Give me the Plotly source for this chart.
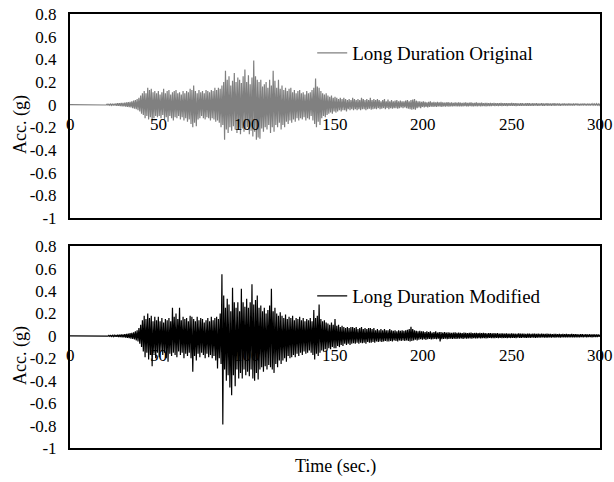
import numpy as np
import plotly.graph_objects as go

# Time axis (1 s steps); each second holds an upper and a lower peak value
time_s = list(range(0, 301))

orig_upper = [0]*20 + [
    0.003,0.004,0.005,0.006,0.008,0.008,0.01,0.012,0.012,0.015,
    0.015,0.018,0.02,0.022,0.025,0.03,0.035,0.04,0.05,0.06,
    0.08,0.1,0.12,0.1,0.15,0.13,0.14,0.11,0.12,0.1,
    0.12,0.09,0.11,0.14,0.1,0.12,0.13,0.09,0.11,0.12,
    0.13,0.1,0.11,0.09,0.12,0.1,0.12,0.11,0.14,0.13,
    0.17,0.12,0.1,0.13,0.11,0.12,0.1,0.13,0.12,0.11,
    0.13,0.12,0.15,0.13,0.15,0.14,0.17,0.2,0.3,0.22,
    0.25,0.17,0.21,0.28,0.2,0.24,0.22,0.19,0.25,0.31,
    0.2,0.26,0.18,0.24,0.39,0.25,0.22,0.2,0.22,0.16,
    0.18,0.2,0.15,0.22,0.17,0.3,0.21,0.15,0.22,0.14,
    0.17,0.13,0.15,0.12,0.14,0.15,0.11,0.13,0.1,0.12,
    0.13,0.1,0.11,0.09,0.12,0.1,0.11,0.13,0.15,0.23,
    0.16,0.15,0.12,0.1,0.09,0.1,0.08,0.07,0.08,0.06,
    0.07,0.06,0.05,0.06,0.05,0.06,0.05,0.04,0.05,0.04,
    0.06,0.05,0.04,0.05,0.04,0.06,0.05,0.04,0.05,0.04,
    0.06,0.04,0.05,0.04,0.05,0.04,0.03,0.04,0.05,0.03,
    0.045,0.03,0.04,0.03,0.035,0.04,0.03,0.035,0.03,0.03,
    0.035,0.04,0.03,0.04,0.045,0.05,0.035,0.03,0.03,0.025,
    0.03,0.025,0.02,0.025,0.03,0.02,0.025,0.02,0.025,0.02,
    0.025,0.02,0.018,0.02,0.022,0.018,0.02,0.015,0.02,0.018,
    0.02,0.018,0.015,0.018,0.02,0.016,0.018,0.02,0.016,0.015,
    0.02,0.016,0.015,0.018,0.014,0.016,0.015,0.013,0.015,0.014,
    0.015,0.013,0.014,0.012,0.015,0.013,0.012,0.014,0.012,0.013,
    0.015,0.012,0.013,0.012,0.011,0.013,0.012,0.011,0.012,0.013,
    0.012,0.011,0.012,0.01,0.012,0.011,0.01,0.012,0.011,0.01,
    0.012,0.01,0.011,0.01,0.012,0.01,0.011,0.01,0.009,0.011,
    0.01,0.009,0.011,0.01,0.009,0.01,0.009,0.01,0.009,0.008,
    0.009,0.01,0.008,0.009,0.008,0.009,0.008,0.007,0.008,0.007,
    0.005]

orig_lower = [0]*20 + [
    -0.003,-0.004,-0.005,-0.006,-0.007,-0.008,-0.01,-0.011,-0.012,-0.014,
    -0.015,-0.017,-0.02,-0.022,-0.025,-0.03,-0.035,-0.04,-0.05,-0.06,
    -0.08,-0.09,-0.12,-0.1,-0.13,-0.11,-0.15,-0.12,-0.1,-0.11,
    -0.1,-0.12,-0.09,-0.13,-0.11,-0.15,-0.1,-0.12,-0.14,-0.11,
    -0.12,-0.1,-0.13,-0.11,-0.14,-0.12,-0.15,-0.13,-0.17,-0.2,
    -0.16,-0.19,-0.13,-0.12,-0.1,-0.12,-0.13,-0.11,-0.12,-0.14,
    -0.12,-0.13,-0.15,-0.14,-0.16,-0.2,-0.18,-0.31,-0.22,-0.25,
    -0.2,-0.23,-0.19,-0.22,-0.25,-0.2,-0.26,-0.21,-0.24,-0.22,
    -0.2,-0.26,-0.23,-0.28,-0.24,-0.31,-0.29,-0.3,-0.21,-0.24,
    -0.2,-0.22,-0.18,-0.25,-0.2,-0.24,-0.18,-0.2,-0.16,-0.22,
    -0.18,-0.2,-0.15,-0.17,-0.14,-0.16,-0.13,-0.15,-0.12,-0.14,
    -0.12,-0.13,-0.11,-0.14,-0.12,-0.13,-0.1,-0.14,-0.17,-0.2,
    -0.15,-0.18,-0.12,-0.1,-0.11,-0.09,-0.08,-0.07,-0.08,-0.06,
    -0.07,-0.06,-0.05,-0.06,-0.05,-0.05,-0.06,-0.04,-0.05,-0.04,
    -0.05,-0.04,-0.05,-0.04,-0.05,-0.04,-0.04,-0.05,-0.04,-0.035,
    -0.045,-0.04,-0.035,-0.04,-0.03,-0.04,-0.035,-0.03,-0.04,-0.03,
    -0.04,-0.03,-0.035,-0.03,-0.03,-0.035,-0.03,-0.025,-0.03,-0.025,
    -0.03,-0.035,-0.04,-0.045,-0.04,-0.045,-0.03,-0.025,-0.03,-0.02,
    -0.025,-0.02,-0.025,-0.02,-0.018,-0.02,-0.018,-0.02,-0.016,-0.018,
    -0.02,-0.016,-0.018,-0.015,-0.017,-0.015,-0.016,-0.014,-0.015,-0.016,
    -0.015,-0.014,-0.016,-0.013,-0.015,-0.014,-0.013,-0.015,-0.014,-0.013,
    -0.016,-0.013,-0.014,-0.012,-0.013,-0.014,-0.012,-0.013,-0.012,-0.011,
    -0.012,-0.011,-0.013,-0.01,-0.012,-0.011,-0.01,-0.012,-0.011,-0.01,
    -0.011,-0.01,-0.012,-0.01,-0.011,-0.009,-0.01,-0.011,-0.009,-0.01,
    -0.01,-0.009,-0.01,-0.008,-0.01,-0.009,-0.008,-0.009,-0.01,-0.008,
    -0.009,-0.008,-0.009,-0.008,-0.009,-0.008,-0.007,-0.009,-0.008,-0.007,
    -0.008,-0.007,-0.008,-0.007,-0.008,-0.007,-0.006,-0.008,-0.007,-0.006,
    -0.007,-0.006,-0.007,-0.006,-0.007,-0.006,-0.005,-0.006,-0.005,-0.006,
    -0.004]

mod_upper = [0]*20 + [
    0.002,0.003,0.004,0.005,0.006,0.007,0.008,0.01,0.011,0.012,
    0.014,0.016,0.018,0.02,0.024,0.028,0.032,0.04,0.05,0.07,
    0.1,0.14,0.18,0.15,0.2,0.16,0.18,0.13,0.17,0.14,
    0.17,0.13,0.16,0.12,0.15,0.14,0.16,0.13,0.25,0.17,
    0.2,0.15,0.25,0.14,0.17,0.15,0.16,0.13,0.18,0.17,
    0.15,0.13,0.17,0.14,0.16,0.15,0.12,0.14,0.16,0.13,
    0.17,0.14,0.16,0.17,0.15,0.2,0.55,0.36,0.25,0.33,
    0.28,0.22,0.43,0.3,0.25,0.3,0.22,0.42,0.3,0.26,
    0.33,0.25,0.3,0.46,0.28,0.32,0.36,0.25,0.27,0.22,
    0.25,0.2,0.23,0.27,0.42,0.22,0.25,0.2,0.18,0.21,
    0.18,0.16,0.19,0.15,0.17,0.16,0.18,0.14,0.16,0.15,
    0.17,0.14,0.16,0.13,0.15,0.14,0.16,0.13,0.23,0.16,
    0.18,0.28,0.15,0.13,0.14,0.12,0.11,0.1,0.12,0.1,
    0.15,0.09,0.1,0.08,0.09,0.08,0.07,0.08,0.07,0.08,
    0.08,0.07,0.08,0.06,0.07,0.08,0.06,0.07,0.06,0.07,
    0.07,0.06,0.07,0.05,0.06,0.05,0.06,0.05,0.06,0.05,
    0.05,0.06,0.05,0.045,0.05,0.04,0.05,0.045,0.05,0.045,
    0.05,0.055,0.06,0.08,0.06,0.05,0.045,0.04,0.045,0.04,
    0.04,0.035,0.04,0.035,0.04,0.03,0.035,0.04,0.03,0.035,
    0.035,0.03,0.035,0.03,0.032,0.03,0.028,0.03,0.032,0.028,
    0.03,0.028,0.025,0.03,0.028,0.025,0.027,0.03,0.025,0.026,
    0.028,0.025,0.027,0.024,0.026,0.025,0.023,0.025,0.024,0.022,
    0.025,0.022,0.024,0.021,0.023,0.022,0.02,0.022,0.021,0.02,
    0.022,0.02,0.021,0.019,0.022,0.02,0.019,0.02,0.018,0.02,
    0.02,0.018,0.019,0.02,0.017,0.019,0.018,0.02,0.017,0.018,
    0.019,0.017,0.018,0.016,0.018,0.017,0.016,0.018,0.016,0.017,
    0.016,0.017,0.015,0.016,0.018,0.015,0.016,0.015,0.014,0.015,
    0.016,0.014,0.015,0.013,0.014,0.013,0.014,0.012,0.013,0.012,
    0.01]

mod_lower = [0]*20 + [
    -0.002,-0.003,-0.004,-0.005,-0.006,-0.007,-0.008,-0.01,-0.011,-0.012,
    -0.014,-0.016,-0.018,-0.02,-0.024,-0.028,-0.032,-0.04,-0.05,-0.07,
    -0.1,-0.14,-0.19,-0.15,-0.21,-0.17,-0.27,-0.16,-0.2,-0.15,
    -0.19,-0.14,-0.17,-0.15,-0.2,-0.23,-0.16,-0.18,-0.15,-0.17,
    -0.19,-0.14,-0.17,-0.15,-0.2,-0.16,-0.18,-0.15,-0.2,-0.32,
    -0.18,-0.22,-0.16,-0.19,-0.15,-0.17,-0.2,-0.16,-0.19,-0.17,
    -0.2,-0.18,-0.22,-0.29,-0.2,-0.25,-0.79,-0.3,-0.4,-0.35,
    -0.46,-0.53,-0.35,-0.45,-0.3,-0.38,-0.33,-0.38,-0.3,-0.35,
    -0.32,-0.36,-0.3,-0.38,-0.4,-0.33,-0.39,-0.3,-0.28,-0.32,
    -0.27,-0.3,-0.26,-0.28,-0.3,-0.33,-0.25,-0.28,-0.22,-0.25,
    -0.22,-0.2,-0.23,-0.18,-0.2,-0.19,-0.17,-0.19,-0.16,-0.18,
    -0.15,-0.17,-0.14,-0.16,-0.15,-0.13,-0.15,-0.17,-0.21,-0.16,
    -0.18,-0.15,-0.13,-0.14,-0.12,-0.13,-0.11,-0.12,-0.1,-0.11,
    -0.11,-0.09,-0.1,-0.08,-0.09,-0.07,-0.08,-0.07,-0.08,-0.07,
    -0.065,-0.07,-0.06,-0.07,-0.06,-0.065,-0.06,-0.07,-0.055,-0.06,
    -0.06,-0.055,-0.06,-0.05,-0.055,-0.05,-0.055,-0.05,-0.045,-0.05,
    -0.05,-0.045,-0.05,-0.04,-0.045,-0.05,-0.04,-0.045,-0.04,-0.045,
    -0.04,-0.045,-0.05,-0.045,-0.04,-0.035,-0.04,-0.035,-0.03,-0.035,
    -0.03,-0.035,-0.03,-0.028,-0.032,-0.03,-0.028,-0.03,-0.025,-0.05,
    -0.03,-0.028,-0.025,-0.03,-0.027,-0.025,-0.028,-0.024,-0.026,-0.025,
    -0.025,-0.023,-0.026,-0.022,-0.024,-0.023,-0.022,-0.025,-0.021,-0.023,
    -0.022,-0.02,-0.023,-0.021,-0.02,-0.022,-0.02,-0.019,-0.021,-0.02,
    -0.02,-0.019,-0.021,-0.018,-0.02,-0.019,-0.018,-0.02,-0.017,-0.019,
    -0.018,-0.017,-0.019,-0.016,-0.018,-0.017,-0.016,-0.018,-0.017,-0.016,
    -0.017,-0.016,-0.015,-0.017,-0.016,-0.015,-0.016,-0.014,-0.016,-0.015,
    -0.015,-0.014,-0.016,-0.014,-0.015,-0.013,-0.014,-0.015,-0.013,-0.014,
    -0.014,-0.013,-0.014,-0.012,-0.013,-0.014,-0.012,-0.013,-0.012,-0.011,
    -0.012,-0.011,-0.012,-0.011,-0.01,-0.012,-0.01,-0.011,-0.01,-0.009,
    -0.008]

y_ticks = [0.8, 0.6, 0.4, 0.2, 0, -0.2, -0.4, -0.6, -0.8, -1]
y_tick_text = ["0.8", "0.6", "0.4", "0.2", "0", "-0.2", "-0.4", "-0.6", "-0.8", "-1"]
x_ticks = [0, 50, 100, 150, 200, 250, 300]
x_tick_text = ["0", "50", "100", "150", "200", "250", "300"]

series_names = ["Long Duration Original", "Long Duration Modified"]
series_colors = ["#808080", "#000000"]

FONT = "Liberation Serif, Times New Roman, serif"
FS = 18


def interleave(t, up, lo):
    t = np.asarray(t, dtype=float)
    xs = np.column_stack([t, t + 0.5]).ravel()
    ys = np.column_stack([np.asarray(up), np.asarray(lo)]).ravel()
    return xs, ys


fig = go.Figure()
x1, y1 = interleave(time_s, orig_upper, orig_lower)
x2, y2 = interleave(time_s, mod_upper, mod_lower)

fig.add_trace(go.Scatter(x=x1, y=y1, mode="lines", name=series_names[0],
                         line=dict(color=series_colors[0], width=1.2),
                         xaxis="x", yaxis="y", legend="legend"))
fig.add_trace(go.Scatter(x=x2, y=y2, mode="lines", name=series_names[1],
                         line=dict(color=series_colors[1], width=1.2),
                         xaxis="x2", yaxis="y2", legend="legend2"))

axis_common = dict(showline=True, mirror=True, linecolor="black", linewidth=2,
                   showgrid=False, zeroline=False, ticks="", automargin=False)

fig.update_layout(
    width=614, height=482,
    margin=dict(l=70, r=14, t=14, b=34),
    paper_bgcolor="white", plot_bgcolor="white",
    font=dict(family=FONT, size=FS, color="black"),
    xaxis=dict(domain=[0, 1], range=[0, 300], anchor="y", showticklabels=False, **axis_common),
    yaxis=dict(domain=[0.530, 1], range=[-1, 0.8], anchor="x",
               tickvals=y_ticks, ticktext=y_tick_text, ticklabelstandoff=8,
               tickfont=dict(family=FONT, size=17), **axis_common),
    xaxis2=dict(domain=[0, 1], range=[0, 300], anchor="y2", showticklabels=False, **axis_common),
    yaxis2=dict(domain=[0, 0.465], range=[-1, 0.8], anchor="x2",
                tickvals=y_ticks, ticktext=y_tick_text, ticklabelstandoff=8,
                tickfont=dict(family=FONT, size=17), **axis_common),
    legend=dict(x=0.457, y=0.910, xanchor="left", yanchor="middle",
                bgcolor="rgba(0,0,0,0)", itemwidth=30,
                font=dict(family=FONT, size=19)),
    legend2=dict(x=0.457, y=0.350, xanchor="left", yanchor="middle",
                 bgcolor="rgba(0,0,0,0)", itemwidth=30,
                 font=dict(family=FONT, size=19)),
    showlegend=True,
)

annotations = []
for xa, ya in [("x", "y"), ("x2", "y2")]:
    for v, txt in zip(x_ticks, x_tick_text):
        annotations.append(dict(x=v, y=0, xref=xa, yref=ya, text=txt, showarrow=False,
                                yshift=-20, font=dict(family=FONT, size=17)))
    annotations.append(dict(x=0, y=-0.18, xref="paper", yref=ya, text="Acc. (g)",
                            textangle=-90, showarrow=False, xanchor="center", xshift=-50,
                            font=dict(family=FONT, size=FS)))
annotations.append(dict(x=0.5, y=0, xref="paper", yref="paper", text="Time (sec.)",
                        showarrow=False, yshift=-31, font=dict(family=FONT, size=FS)))
fig.update_layout(annotations=annotations)

fig.write_html("out.html", config={"displayModeBar": False},
               post_script="document.body.style.margin='0';document.body.style.overflow='hidden';")
